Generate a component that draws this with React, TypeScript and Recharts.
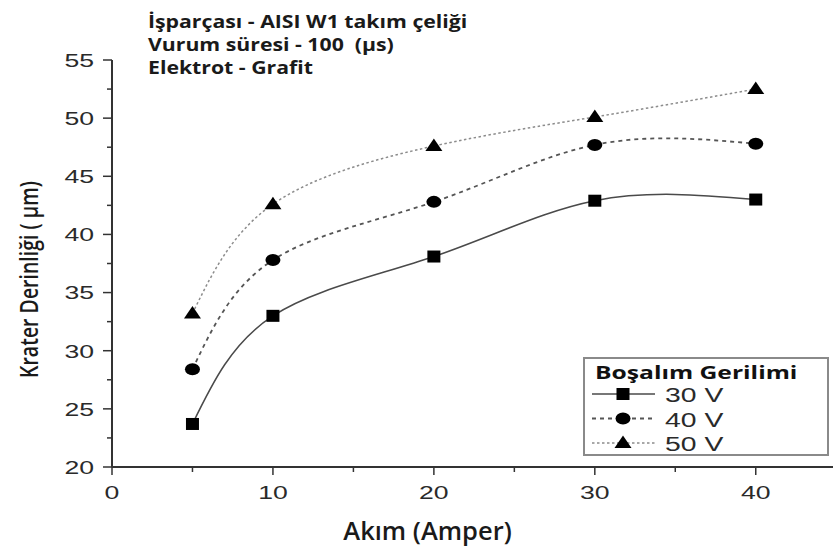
import { LineChart, Line, XAxis, YAxis, Legend } from "recharts";

// Akım (A) vs krater derinliği (µm)
const currents = [5, 10, 20, 30, 40];
const depth30V = [23.7, 33.0, 38.1, 42.9, 43.0];
const depth40V = [28.4, 37.8, 42.8, 47.7, 47.8];
const depth50V = [33.2, 42.6, 47.6, 50.1, 52.5];

const seriesNames = ["30 V", "40 V", "50 V"];
const xTicks = [0, 5, 10, 15, 20, 25, 30, 35, 40];
const yTicks = [20, 22.5, 25, 27.5, 30, 32.5, 35, 37.5, 40, 42.5, 45, 47.5, 50, 52.5, 55];
const titleLines = [
  "İşparçası - AISI W1 takım çeliği",
  "Vurum süresi - 100  (µs)",
  "Elektrot - Grafit",
];
const legendTitle = "Boşalım Gerilimi";
const xLabel = "Akım (Amper)";
const yLabel = "Krater Derinliği ( µm)";

const data = currents.map((c, i) => ({
  current: c,
  v30: depth30V[i],
  v40: depth40V[i],
  v50: depth50V[i],
}));

const SERIES = [
  { key: "v30", name: seriesNames[0], stroke: "#4a4a4a", width: 1.5, dash: undefined, shape: "square" },
  { key: "v40", name: seriesNames[1], stroke: "#555", width: 1.8, dash: "4 4", shape: "circle" },
  { key: "v50", name: seriesNames[2], stroke: "#8c8c8c", width: 1.5, dash: "2.5 2.5", shape: "triangle" },
];

const AXIS = "#333";
const TICK_FONT = "'Liberation Sans', Arial, sans-serif";
const LABEL_FONT = "'Open Sans', sans-serif";
const STRETCH = 1.4;

function Marker({ cx, cy, shape }: { cx: number; cy: number; shape: string }) {
  if (shape === "square") {
    return <rect x={cx - 6.5} y={cy - 6} width={13} height={12} fill="#000" />;
  }
  if (shape === "circle") {
    return <ellipse cx={cx} cy={cy} rx={7.5} ry={6} fill="#000" />;
  }
  return (
    <polygon
      points={`${cx},${cy - 7.5} ${cx - 8.5},${cy + 5} ${cx + 8.5},${cy + 5}`}
      fill="#000"
    />
  );
}

function YTick(props: any) {
  const { x, y, payload } = props;
  const major = payload.value % 5 === 0;
  const axisX = x + 8;
  return (
    <g>
      <line x1={axisX - (major ? 9 : 5)} x2={axisX} y1={y} y2={y} stroke={AXIS} strokeWidth={1.5} />
      {major && (
        <text
          transform={`translate(${axisX - 18},${y}) scale(${STRETCH},1)`}
          dy="0.36em"
          textAnchor="end"
          fontFamily={TICK_FONT}
          fontSize={19}
          fill="#2a2a2a"
        >
          {payload.value}
        </text>
      )}
    </g>
  );
}

function XTick(props: any) {
  const { x, y, payload } = props;
  const major = payload.value % 10 === 0;
  const axisY = y - 8;
  return (
    <g>
      <line x1={x} x2={x} y1={axisY} y2={axisY + (major ? 8 : 5)} stroke={AXIS} strokeWidth={1.5} />
      {major && (
        <text
          transform={`translate(${x},${axisY + 32}) scale(${STRETCH},1)`}
          textAnchor="middle"
          fontFamily={TICK_FONT}
          fontSize={19}
          fill="#2a2a2a"
        >
          {payload.value}
        </text>
      )}
    </g>
  );
}

function LegendBox(props: any) {
  const payload = props.payload || [];
  return (
    <svg width={246} height={99} style={{ display: "block" }}>
      <rect x={1} y={1} width={244} height={97} fill="#fff" stroke="#8a8a8a" strokeWidth={2} />
      <text
        transform="translate(12,22) scale(1.45,1)"
        fontFamily={LABEL_FONT}
        fontWeight={700}
        fontSize={17}
        fill="#111"
      >
        {legendTitle}
      </text>
      {SERIES.map((s, i) => {
        const cy = 37 + i * 24.5;
        const entry = payload.find((p: any) => p.dataKey === s.key);
        return (
          <g key={s.key}>
            <line x1={9} x2={72} y1={cy} y2={cy} stroke={s.stroke} strokeWidth={s.width} strokeDasharray={s.dash} />
            <Marker cx={40} cy={cy} shape={s.shape} />
            <text
              transform={`translate(82,${cy + 8}) scale(1.35,1)`}
              fontFamily={TICK_FONT}
              fontSize={21}
              fill="#2a2a2a"
            >
              {entry ? entry.value : s.name}
            </text>
          </g>
        );
      })}
    </svg>
  );
}

export default function App() {
  return (
    <div style={{ position: "absolute", left: 0, top: 0, width: 833, height: 547, background: "#fff" }}>
      <LineChart
        width={833}
        height={547}
        data={data}
        margin={{ top: 60, right: 0, bottom: 0, left: 0 }}
      >
        <XAxis
          dataKey="current"
          type="number"
          domain={[0, 44.8]}
          ticks={xTicks}
          allowDataOverflow
          height={80}
          tickSize={6}
          tickMargin={2}
          tickLine={false}
          tick={<XTick />}
          axisLine={{ stroke: AXIS, strokeWidth: 2 }}
          label={{
            content: ({ viewBox }: any) => (
              <text
                transform={`translate(${viewBox.x - 45 + viewBox.width / 2},${viewBox.y + 73}) scale(1.02,1)`}
                textAnchor="middle"
                fontFamily={LABEL_FONT}
                fontWeight={600}
                fontSize={25}
                fill="#1a1a1a"
              >
                {xLabel}
              </text>
            ),
          }}
        />
        <YAxis
          type="number"
          domain={[20, 55]}
          ticks={yTicks}
          width={112}
          tickSize={6}
          tickMargin={2}
          tickLine={false}
          tick={<YTick />}
          axisLine={{ stroke: AXIS, strokeWidth: 2 }}
          label={{
            content: ({ viewBox }: any) => {
              const cx = 28;
              const cy = viewBox.y + viewBox.height / 2 + 16;
              return (
                <text
                  transform={`translate(${cx},${cy}) rotate(-90) scale(1,1.3)`}
                  textAnchor="middle"
                  dominantBaseline="central"
                  fontFamily={LABEL_FONT}
                  fontWeight={600}
                  fontSize={19.5}
                  fill="#1a1a1a"
                >
                  {yLabel}
                </text>
              );
            },
          }}
        />
        <Legend
          layout="horizontal"
          verticalAlign="middle"
          align="center"
          content={<LegendBox />}
          wrapperStyle={{ position: "absolute", left: 583, top: 357, width: 246, height: 99 }}
        />
        {SERIES.map((s) => (
          <Line
            key={s.key}
            type="natural"
            dataKey={s.key}
            name={s.name}
            stroke={s.stroke}
            strokeWidth={s.width}
            strokeDasharray={s.dash}
            isAnimationActive={false}
            dot={(p: any) => <Marker key={`${s.key}-${p.index}`} cx={p.cx} cy={p.cy} shape={s.shape} />}
            activeDot={false}
          />
        ))}
      </LineChart>
      <svg
        width={833}
        height={90}
        style={{ position: "absolute", left: 0, top: 0, pointerEvents: "none" }}
      >
        {titleLines.map((t, i) => (
          <text
            key={i}
            transform={`translate(148,${28 + i * 23}) scale(1.25,1)`}
            fontFamily={LABEL_FONT}
            fontWeight={700}
            fontSize={17}
            fill="#1a1a1a"
            style={{ whiteSpace: "pre" }}
          >
            {t}
          </text>
        ))}
      </svg>
    </div>
  );
}
